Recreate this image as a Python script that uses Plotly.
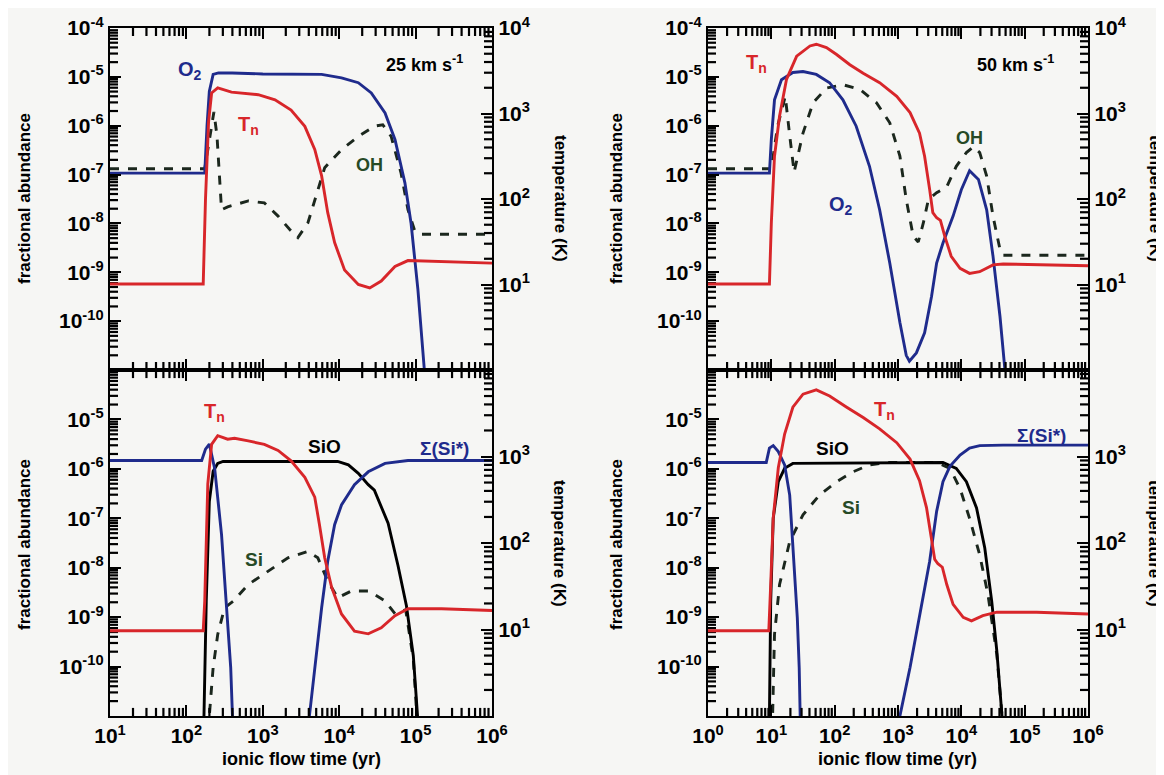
import numpy as np
import plotly.graph_objects as go

# ---------------- DATA (log10 values) ----------------
tl_o2_logt = [1.0, 2.24, 2.27, 2.30, 2.35, 2.42, 2.6, 3.0, 3.77, 4.03, 4.25, 4.42, 4.60, 4.73, 4.86, 4.94, 5.03, 5.10, 5.13]
tl_o2_loga = [-6.97, -6.97, -6.0, -5.3, -4.95, -4.92, -4.92, -4.94, -4.95, -5.02, -5.12, -5.33, -5.74, -6.28, -7.17, -7.99, -9.35, -10.85, -11.3]
tl_oh_logt = [1.0, 2.24, 2.30, 2.36, 2.40, 2.46, 2.54, 2.81, 3.02, 3.20, 3.35, 3.46, 3.59, 3.72, 3.81, 4.03, 4.25, 4.46, 4.57, 4.68, 4.81, 4.90, 4.99, 5.08, 6.0]
tl_oh_loga = [-6.88, -6.88, -6.3, -5.72, -6.2, -7.72, -7.66, -7.54, -7.58, -7.85, -8.12, -8.29, -7.99, -7.31, -6.86, -6.49, -6.22, -6.01, -5.98, -6.22, -6.97, -7.72, -8.16, -8.22, -8.22]
tl_tn_logt = [1.0, 2.22, 2.25, 2.29, 2.33, 2.41, 2.59, 2.72, 2.94, 3.16, 3.37, 3.55, 3.68, 3.77, 3.85, 3.94, 4.07, 4.25, 4.40, 4.55, 4.73, 4.90, 5.34, 6.0]
tl_tn_logT = [1.006, 1.006, 2.0, 2.9, 3.24, 3.30, 3.25, 3.24, 3.22, 3.16, 3.04, 2.85, 2.58, 2.27, 1.84, 1.49, 1.17, 1.0, 0.96, 1.04, 1.21, 1.28, 1.27, 1.25]

bl_si_tot_logt = [1.0, 2.20, 2.25, 2.30, 2.37, 2.46, 2.52, 2.58, 2.61, 3.60, 3.61, 3.68, 3.77, 3.85, 3.94, 4.03, 4.20, 4.38, 4.60, 4.90, 6.0]
bl_si_tot_loga = [-5.83, -5.83, -5.6, -5.50, -5.99, -7.33, -8.68, -10.02, -11.3, -11.3, -11.0, -10.02, -8.81, -7.87, -7.13, -6.73, -6.32, -6.06, -5.89, -5.83, -5.83]
bl_sio_logt = [2.22, 2.23, 2.26, 2.30, 2.35, 2.41, 2.48, 3.98, 4.12, 4.25, 4.38, 4.46, 4.64, 4.77, 4.88, 4.97, 5.03]
bl_sio_loga = [-11.3, -11.0, -8.68, -6.66, -6.05, -5.89, -5.85, -5.85, -5.92, -6.09, -6.32, -6.43, -7.10, -7.96, -8.77, -9.78, -11.1]
bl_si_logt = [2.29, 2.30, 2.35, 2.41, 2.50, 2.61, 2.81, 3.07, 3.33, 3.59, 3.72, 3.85, 3.98, 4.16, 4.38, 4.60, 4.73, 4.87, 4.97, 5.02]
bl_si_loga = [-11.3, -11.0, -10.02, -9.35, -8.81, -8.68, -8.34, -8.07, -7.80, -7.67, -7.80, -8.27, -8.61, -8.47, -8.47, -8.67, -8.93, -8.85, -9.85, -11.1]
bl_tn_logt = [1.0, 2.22, 2.24, 2.26, 2.28, 2.33, 2.41, 2.54, 2.63, 2.81, 3.02, 3.20, 3.37, 3.55, 3.68, 3.74, 3.81, 3.90, 4.03, 4.20, 4.38, 4.55, 4.73, 4.90, 5.34, 6.0]
bl_tn_logT = [0.985, 0.985, 1.33, 2.10, 2.68, 3.14, 3.24, 3.20, 3.21, 3.18, 3.14, 3.07, 2.95, 2.76, 2.53, 2.22, 1.83, 1.49, 1.18, 0.98, 0.95, 1.02, 1.16, 1.24, 1.24, 1.22]

tr_o2_logt = [0.0, 0.97, 1.0, 1.05, 1.16, 1.34, 1.50, 1.71, 1.92, 2.13, 2.34, 2.55, 2.71, 2.87, 3.03, 3.13, 3.18, 3.29, 3.42, 3.53, 3.61, 3.71, 3.87, 4.00, 4.13, 4.27, 4.40, 4.50, 4.61, 4.69, 4.71]
tr_o2_loga = [-6.97, -6.97, -6.28, -5.47, -5.06, -4.91, -4.89, -4.95, -5.12, -5.47, -6.01, -6.83, -7.72, -8.81, -10.03, -10.7, -10.82, -10.65, -10.24, -9.49, -8.81, -8.40, -7.85, -7.31, -6.92, -7.10, -7.72, -8.67, -9.90, -10.92, -11.3]
tr_oh_logt = [0.0, 1.0, 1.10, 1.22, 1.29, 1.36, 1.50, 1.66, 1.87, 2.13, 2.40, 2.66, 2.87, 3.03, 3.13, 3.24, 3.32, 3.40, 3.48, 3.61, 3.77, 3.92, 4.08, 4.19, 4.29, 4.40, 4.50, 4.61, 4.66, 6.0]
tr_oh_loga = [-6.88, -6.88, -6.0, -5.40, -6.2, -6.95, -6.15, -5.53, -5.23, -5.16, -5.26, -5.53, -5.94, -6.62, -7.51, -8.26, -8.38, -7.99, -7.51, -7.37, -7.25, -6.83, -6.55, -6.43, -6.55, -7.03, -7.85, -8.53, -8.65, -8.65]
tr_tn_logt = [0.0, 0.97, 1.0, 1.05, 1.13, 1.24, 1.40, 1.61, 1.71, 1.87, 2.03, 2.24, 2.45, 2.71, 2.98, 3.19, 3.34, 3.42, 3.50, 3.55, 3.61, 3.67, 3.74, 3.84, 3.98, 4.13, 4.29, 4.50, 4.66, 5.19, 6.0]
tr_tn_logT = [1.006, 1.006, 1.72, 2.50, 2.97, 3.40, 3.67, 3.79, 3.81, 3.77, 3.69, 3.57, 3.47, 3.36, 3.20, 3.01, 2.77, 2.50, 2.11, 1.84, 1.78, 1.75, 1.56, 1.33, 1.19, 1.13, 1.15, 1.23, 1.24, 1.23, 1.22]

br_si_tot_logt = [0.0, 0.92, 0.97, 1.03, 1.11, 1.21, 1.29, 1.35, 1.41, 1.44, 1.46, 3.02, 3.03, 3.19, 3.34, 3.50, 3.61, 3.71, 3.82, 3.98, 4.13, 4.29, 4.66, 6.0]
br_si_tot_loga = [-5.87, -5.87, -5.58, -5.53, -5.65, -5.92, -6.53, -7.67, -9.01, -10.02, -11.3, -11.3, -11.0, -10.02, -9.01, -7.87, -6.86, -6.26, -5.95, -5.72, -5.58, -5.53, -5.52, -5.52]
br_sio_logt = [0.96, 0.97, 0.99, 1.03, 1.11, 1.21, 1.34, 3.71, 3.92, 4.08, 4.24, 4.37, 4.48, 4.56, 4.63, 4.66]
br_sio_loga = [-11.3, -11.0, -8.68, -7.0, -6.26, -5.99, -5.89, -5.87, -5.99, -6.26, -6.79, -7.60, -8.68, -9.68, -10.8, -11.3]
br_si_logt = [1.01, 1.02, 1.05, 1.13, 1.29, 1.50, 1.76, 2.03, 2.29, 2.55, 2.82, 3.61, 3.82, 3.98, 4.13, 4.29, 4.42, 4.50, 4.56, 4.63, 4.66]
br_si_loga = [-11.3, -11.0, -9.35, -8.34, -7.47, -6.93, -6.53, -6.26, -6.06, -5.92, -5.87, -5.87, -5.99, -6.40, -7.0, -7.74, -8.54, -9.22, -9.75, -10.8, -11.3]
br_tn_logt = [0.0, 0.96, 0.99, 1.03, 1.11, 1.21, 1.34, 1.50, 1.71, 1.92, 2.19, 2.45, 2.71, 2.98, 3.19, 3.34, 3.45, 3.53, 3.58, 3.63, 3.70, 3.77, 3.87, 4.03, 4.16, 4.34, 4.56, 5.19, 6.0]
br_tn_logT = [0.985, 0.985, 1.52, 2.29, 2.87, 3.26, 3.57, 3.72, 3.77, 3.70, 3.57, 3.45, 3.32, 3.16, 2.97, 2.72, 2.41, 2.06, 1.81, 1.76, 1.72, 1.52, 1.29, 1.14, 1.10, 1.16, 1.20, 1.20, 1.18]

abund_decades = [-11, -10, -9, -8, -7, -6, -5, -4]
temp_decades = [0, 1, 2, 3, 4]
time_decades = [0, 1, 2, 3, 4, 5, 6]

# ---------------- STYLE ----------------
BLUE = '#1f2b8c'
RED = '#d8262a'
DASH = '#1b271d'
GREEN = '#264a26'
BG = '#f6f6f4'
FONT = 'Liberation Sans, Arial, Helvetica, sans-serif'

def p(v):
    return np.power(10.0, np.array(v, dtype=float))

def sup(e):
    return '10<sup>%d</sup>' % e

fig = go.Figure()

def line(xa, ya, lx, ly, color, dash='solid', width=2.9):
    fig.add_trace(go.Scatter(x=p(lx), y=p(ly), mode='lines', xaxis=xa, yaxis=ya,
                             line=dict(color=color, width=width, dash=dash),
                             showlegend=False, hoverinfo='skip'))

line('x', 'y', tl_oh_logt, tl_oh_loga, DASH, dash='dash')
line('x', 'y2', tl_tn_logt, tl_tn_logT, RED)
line('x', 'y', tl_o2_logt, tl_o2_loga, BLUE)
line('x2', 'y3', tr_oh_logt, tr_oh_loga, DASH, dash='dash')
line('x2', 'y4', tr_tn_logt, tr_tn_logT, RED)
line('x2', 'y3', tr_o2_logt, tr_o2_loga, BLUE)
line('x3', 'y5', bl_si_logt, bl_si_loga, DASH, dash='dash')
line('x3', 'y5', bl_sio_logt, bl_sio_loga, 'black')
line('x3', 'y5', bl_si_tot_logt, bl_si_tot_loga, BLUE)
line('x3', 'y6', bl_tn_logt, bl_tn_logT, RED)
line('x4', 'y7', br_si_logt, br_si_loga, DASH, dash='dash')
line('x4', 'y7', br_sio_logt, br_sio_loga, 'black')
line('x4', 'y7', br_si_tot_logt, br_si_tot_loga, BLUE)
line('x4', 'y8', br_tn_logt, br_tn_logT, RED)

W, H = 1164, 775
xdomL = [102 / W, 484 / W]
xdomR = [700 / W, 1080 / W]
ydomT = [1 - 362 / H, 1 - 20 / H]
ydomB = [1 - 708 / H, 1 - 362 / H]

tickfont = dict(family=FONT, size=21, color='black', weight='bold')

def minor_vals(decs):
    vals = []
    for d in decs[:-1]:
        for m in range(2, 10):
            vals.append(m * 10.0 ** d)
    return vals

def ax(rng, decs, labels, anchor, domain, side=None, overlaying=None, mirror=False, show=True):
    d = dict(type='log', range=rng, domain=domain, anchor=anchor, automargin=False,
             showline=True, linecolor='black', linewidth=2.4, mirror=mirror,
             ticks='inside', ticklen=11, tickwidth=2.4, tickcolor='black',
             showgrid=False, zeroline=False,
             tickmode='array', tickvals=[10.0 ** e for e in decs],
             ticktext=[sup(e) if e in labels else '' for e in decs],
             showticklabels=show, tickfont=tickfont)
    if side:
        d['side'] = side
    if overlaying:
        d['overlaying'] = overlaying
    return d

ABL = [-10, -9, -8, -7, -6, -5, -4]
ABL_B = [-10, -9, -8, -7, -6, -5]

layout = dict(
    width=W, height=H, autosize=False,
    margin=dict(l=0, r=0, t=0, b=0, autoexpand=False),
    paper_bgcolor=BG, plot_bgcolor=BG,
    showlegend=False,
    font=dict(family=FONT, color='black'),
    xaxis=ax([1, 6], time_decades[1:], [], 'y', xdomL, mirror='ticks', show=False),
    yaxis=ax([-11, -4], abund_decades, ABL, 'x', ydomT),
    yaxis2=ax([0, 4], temp_decades, [1, 2, 3, 4], 'x', ydomT, side='right', overlaying='y'),
    xaxis2=ax([0, 6], time_decades, [], 'y3', xdomR, mirror='ticks', show=False),
    yaxis3=ax([-11, -4], abund_decades, ABL, 'x2', ydomT),
    yaxis4=ax([0, 4], temp_decades, [1, 2, 3, 4], 'x2', ydomT, side='right', overlaying='y3'),
    xaxis3=ax([1, 6], time_decades[1:], [1, 2, 3, 4, 5, 6], 'y5', xdomL, mirror='ticks'),
    yaxis5=ax([-11, -4], abund_decades, ABL_B, 'x3', ydomB),
    yaxis6=ax([0, 4], temp_decades, [1, 2, 3], 'x3', ydomB, side='right', overlaying='y5'),
    xaxis4=ax([0, 6], time_decades, [0, 1, 2, 3, 4, 5, 6], 'y7', xdomR, mirror='ticks'),
    yaxis7=ax([-11, -4], abund_decades, ABL_B, 'x4', ydomB),
    yaxis8=ax([0, 4], temp_decades, [1, 2, 3], 'x4', ydomB, side='right', overlaying='y7'),
)
fig.update_layout(**layout)

# ---- minor tick marks (2..9 in each decade), short segments along the frame ----
MT = dict(color='black', width=2.2)
def tick_trace(xa, ya, xs, ys):
    fig.add_trace(go.Scatter(x=xs, y=ys, mode='lines', xaxis=xa, yaxis=ya, line=MT,
                             showlegend=False, hoverinfo='skip', connectgaps=False))

def xminor(xa, ya, decs, ylo, yhi, frac):
    xs, ys = [], []
    for v in minor_vals(decs):
        xs += [v, v, None, v, v, None]
        ys += [10.0 ** ylo, 10.0 ** (ylo + frac), None, 10.0 ** yhi, 10.0 ** (yhi - frac), None]
    tick_trace(xa, ya, xs, ys)

def yminor(xa, ya, decs, xedge, frac):
    xs, ys = [], []
    for v in minor_vals(decs):
        xs += [10.0 ** xedge, 10.0 ** (xedge + frac), None]
        ys += [v, v, None]
    tick_trace(xa, ya, xs, ys)

MINLEN = 8  # px
XL = MINLEN / 48.9
XLEFT = MINLEN / 76.4
XRIGHT = MINLEN / 63.3

xminor('x', 'y', time_decades[1:], -11, -4, XL)
xminor('x2', 'y3', time_decades, -11, -4, XL)
xminor('x3', 'y5', time_decades[1:], -11, -4, XL)
xminor('x4', 'y7', time_decades, -11, -4, XL)
yminor('x', 'y', abund_decades, 1, XLEFT)
yminor('x', 'y2', temp_decades, 6, -XLEFT)
yminor('x2', 'y3', abund_decades, 0, XRIGHT)
yminor('x2', 'y4', temp_decades, 6, -XRIGHT)
yminor('x3', 'y5', abund_decades, 1, XLEFT)
yminor('x3', 'y6', temp_decades, 6, -XLEFT)
yminor('x4', 'y7', abund_decades, 0, XRIGHT)
yminor('x4', 'y8', temp_decades, 6, -XRIGHT)

ann = []
def lab(text, xr, yr, lt, la, color, size=20):
    ann.append(dict(text=text, xref=xr, yref=yr, x=lt, y=la, showarrow=False,
                    font=dict(family=FONT, size=size, color=color, weight='bold')))

lab('O<sub>2</sub>', 'x', 'y', 2.05, -4.86, BLUE)
lab('T<sub>n</sub>', 'x', 'y', 2.81, -6.0, RED)
lab('OH', 'x', 'y', 4.40, -6.80, GREEN, 18)
lab('25 km s<sup>-1</sup>', 'x', 'y', 5.12, -4.72, 'black', 18)
lab('T<sub>n</sub>', 'x2', 'y3', 0.76, -4.72, RED)
lab('50 km s<sup>-1</sup>', 'x2', 'y3', 4.85, -4.72, 'black', 18)
lab('O<sub>2</sub>', 'x2', 'y3', 2.10, -7.64, BLUE)
lab('OH', 'x2', 'y3', 4.13, -6.25, GREEN, 18)
lab('T<sub>n</sub>', 'x3', 'y5', 2.37, -4.86, RED)
lab('SiO', 'x3', 'y5', 3.81, -5.55, 'black', 19)
lab('Σ(Si*)', 'x3', 'y5', 5.38, -5.58, BLUE, 19)
lab('Si', 'x3', 'y5', 2.89, -7.84, GREEN, 19)
lab('T<sub>n</sub>', 'x4', 'y7', 2.79, -4.81, RED)
lab('SiO', 'x4', 'y7', 1.97, -5.58, 'black', 19)
lab('Σ(Si*)', 'x4', 'y7', 5.26, -5.32, BLUE, 19)
lab('Si', 'x4', 'y7', 2.26, -6.79, GREEN, 19)

def ptitle(text, px, py, angle, size=17):
    ann.append(dict(text=text, xref='paper', yref='paper', x=px / W, y=1 - py / H,
                    textangle=angle, showarrow=False, xanchor='center', yanchor='middle',
                    font=dict(family=FONT, size=size, color='black', weight='bold')))

ptitle('fractional abundance', 16, 191, -90)
ptitle('fractional abundance', 16, 537, -90)
ptitle('fractional abundance', 608, 191, -90)
ptitle('fractional abundance', 608, 537, -90)
ptitle('temperature (K)', 552, 190, 90)
ptitle('temperature (K)', 552, 535, 90)
ptitle('temperature (K)', 1147, 190, 90)
ptitle('temperature (K)', 1147, 535, 90)
ptitle('ionic flow time (yr)', 293, 751, 0, 18)
ptitle('ionic flow time (yr)', 890, 751, 0, 18)

fig.update_layout(annotations=ann)
fig.write_html('out.html')
